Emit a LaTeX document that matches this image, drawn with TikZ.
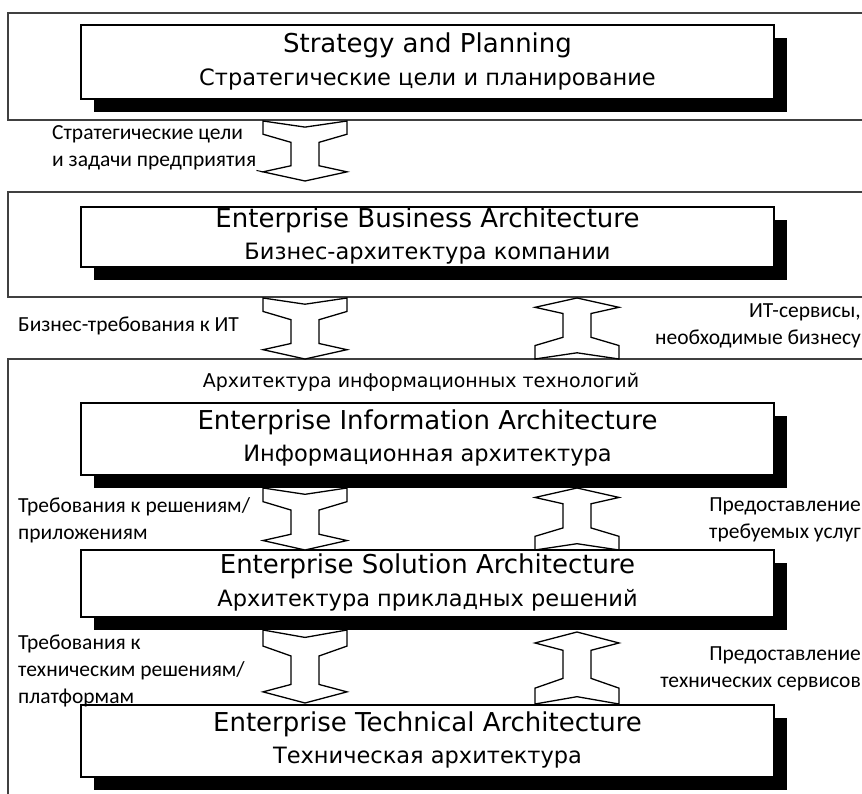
\documentclass[tikz,border=0pt]{standalone}
\usepackage{fontspec}
\setmainfont{Carlito}
\newfontfamily\titlefont{DejaVu Sans}
\usepackage{tikz}
\usetikzlibrary{positioning,shadows}

\newcommand\entitle{\titlefont\fontsize{26}{30}\selectfont}
\newcommand\rutitle{\titlefont\fontsize{22.5}{30}\selectfont}

\tikzset{
    outerbox/.style={draw=black!75, line width=1.3pt},
    layer/.style={draw, line width=1.4pt, fill=white, minimum width=693pt, inner sep=0pt,
        drop shadow={shadow xshift=13pt, shadow yshift=-13pt, opacity=1, fill=black}},
    entxt/.style={font=\entitle, inner sep=0pt},
    rutxt/.style={font=\rutitle, inner sep=0pt},
    lbl/.style={font=\fontsize{21.5}{27}\selectfont, inner sep=0pt},
    blockline/.style={draw, line width=1.3pt, fill=white, line join=miter},
    pics/downarr/.style={code={
        \draw[blockline, yscale=#1/59] (-42,0) -- (0,6) -- (42,0) -- (42,13) -- (14,21) -- (14,44) -- (42,50)
            -- (0,59) -- (-42,50) -- (-14,44) -- (-14,21) -- (-42,13) -- cycle;
        \coordinate (-lc) at (-42,{#1*50/59});
    }},
    pics/uparr/.style={code={
        \draw[blockline, yscale=-#1/59] (-42,0) -- (0,6) -- (42,0) -- (42,13) -- (14,21) -- (14,44) -- (42,50)
            -- (0,59) -- (-42,50) -- (-14,44) -- (-14,21) -- (-42,13) -- cycle;
    }},
}

\begin{document}
\begin{tikzpicture}[x=1pt, y=-1pt]
    \useasboundingbox (0,0) rectangle (862,794);
    \clip (0,0) rectangle (862,794);

    % Frames of the three levels
    \draw[outerbox] (8,13) rectangle (870,120);
    \draw[outerbox] (8,192) rectangle (870,297);
    \draw[outerbox] (8,359) rectangle (870,810);

    % Layers
    \node[layer, minimum height=74pt] (strat) at (427.5,62) {};
    \node[layer, minimum height=60pt] (bus) at (427.5,237) {};
    \node[layer, minimum height=72pt] (info) at (427.5,439) {};
    \node[layer, minimum height=67pt] (sol) at (427.5,583.5) {};
    \node[layer, minimum height=72pt] (tech) at (427.5,741) {};

    % Layer titles, English over Russian
    \foreach \b/\en/\ru in {strat/Strategy and Planning/Стратегические цели и планирование,
                            bus/Enterprise Business Architecture/Бизнес-архитектура компании,
                            info/Enterprise Information Architecture/Информационная архитектура,
                            sol/Enterprise Solution Architecture/Архитектура прикладных решений,
                            tech/Enterprise Technical Architecture/Техническая архитектура} {
      \node[entxt] (\b-en) at ([yshift=17pt]\b.center) {\en};
      \node[rutxt] (\b-ru) at ([yshift=-17pt]\b.center) {\ru};
    }

    % Block arrows: requirements go down, services go up
    \foreach \n/\x/\y/\h in {a1/305/121/60, a2/305/298/61, a3/305/488/62, a4/305/630/73}
      \pic (\n) at (\x,\y) {downarr=\h};
    \foreach \n/\x/\y/\h in {b2/577/359/61, b3/577/550/62, b4/577/704/72}
      \pic (\n) at (\x,\y) {uparr=\h};

    % Labels
    \node[lbl, align=left, anchor=west] (l1) at (52,148) {Стратегические цели\\и задачи предприятия};
    \draw[line width=1pt] (l1.south east) -- (a1-lc);
    \node[lbl, anchor=west] (l2) at (18,326) {Бизнес-требования к ИТ};
    \node[lbl, align=right, anchor=east] (r2) at (861,326) {ИТ-сервисы,\\необходимые бизнесу};
    \node[lbl, font=\titlefont\fontsize{19}{22}\selectfont] (itarch) at (421,382) {Архитектура информационных технологий};
    \node[lbl, align=left, anchor=west] (l3) at (18,520) {Требования к решениям/\\приложениям};
    \node[lbl, align=right, anchor=east] (r3) at (861,520) {Предоставление\\требуемых услуг};
    \node[lbl, align=left, anchor=west] (l4) at (18,671) {Требования к\\техническим решениям/\\платформам};
    \node[lbl, align=right, anchor=east] (r4) at (861,669) {Предоставление\\технических сервисов};

\end{tikzpicture}
\end{document}
